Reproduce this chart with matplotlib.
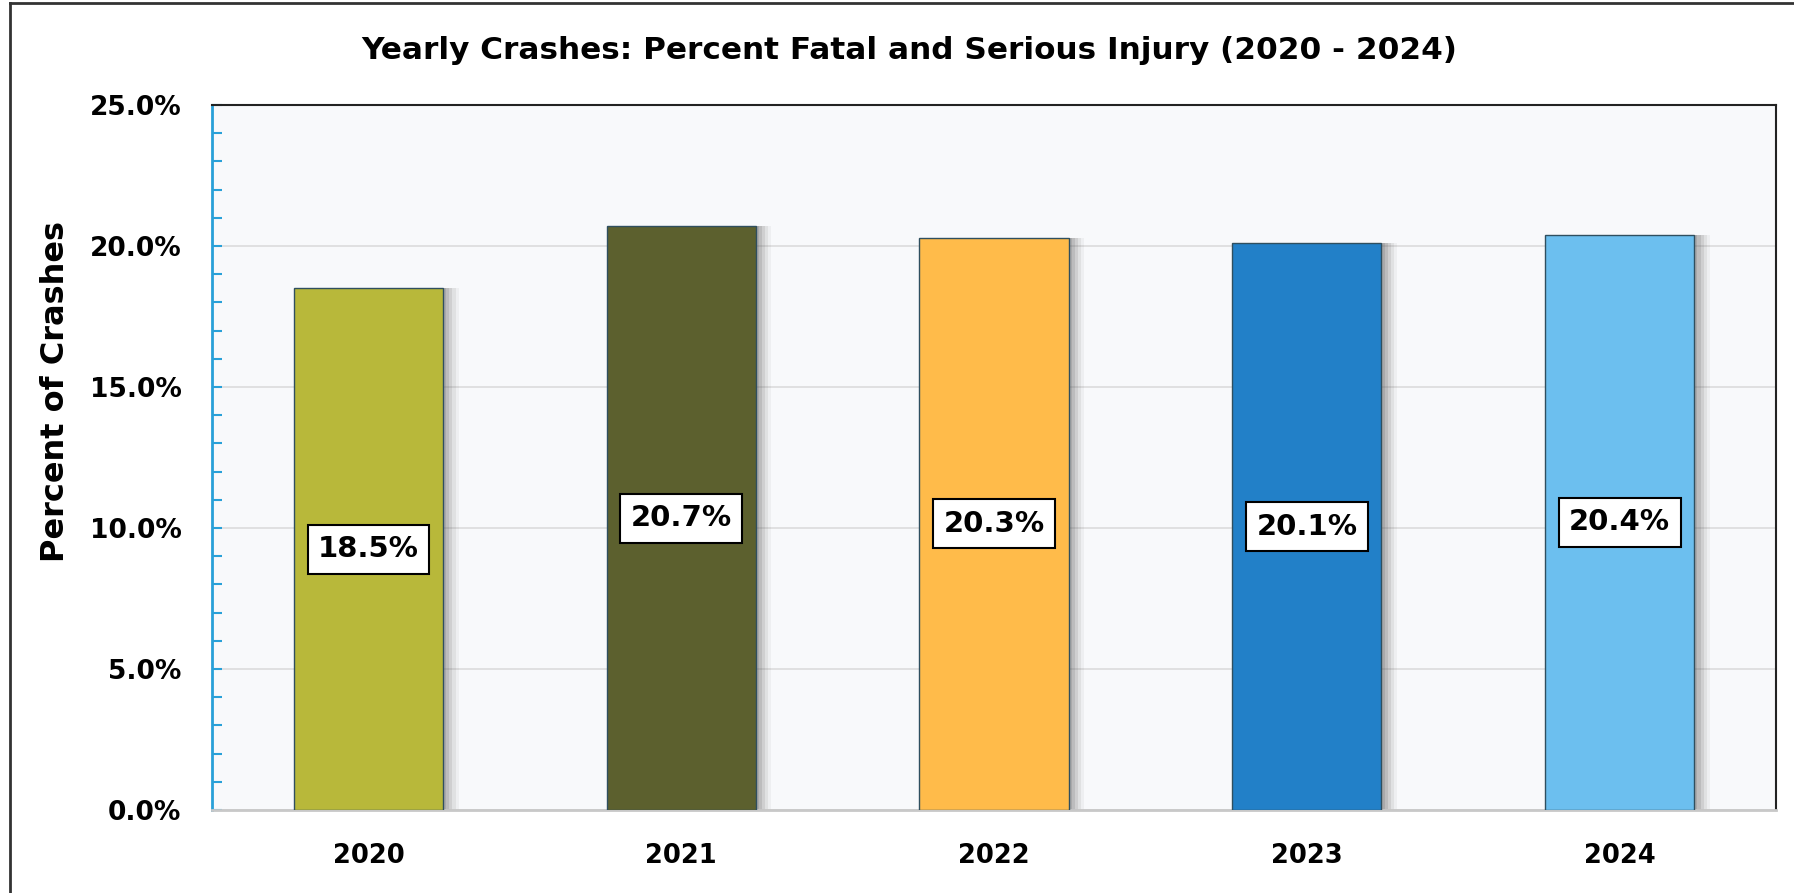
import matplotlib.pyplot as plt
from matplotlib.lines import Line2D
from matplotlib.ticker import MultipleLocator, FuncFormatter

years = ["2020", "2021", "2022", "2023", "2024"]
pct = [18.5, 20.7, 20.3, 20.1, 20.4]
colors = ["#b8b83a", "#5c602e", "#ffbb4a", "#2280c8", "#6cbfef"]

plt.rcParams["font.family"] = ["DejaVu Sans"]
plt.rcParams["font.weight"] = "bold"

fig = plt.figure(figsize=(17.94, 8.93), dpi=100)
ax = fig.add_axes([0.1182, 0.0929, 0.8718, 0.7895])
ax.set_facecolor("#f8f9fb")

x = list(range(len(years)))

# soft shadow to the right of each bar
for off, a in [(0.05, 0.06), (0.04, 0.09), (0.03, 0.12), (0.02, 0.15), (0.01, 0.18)]:
    ax.bar([i + off for i in x], pct, width=0.477, color="#555555", alpha=a,
           linewidth=0, zorder=2)

ax.bar(x, pct, width=0.477, color=colors, edgecolor="#2f4f5f", linewidth=1.0, zorder=3)

for i, v in zip(x, pct):
    ax.text(i, v / 2, f"{v}%", ha="center", va="center", fontsize=21,
            fontweight="bold", zorder=5,
            bbox=dict(boxstyle="square,pad=0.36", facecolor="white",
                      edgecolor="black", linewidth=1.5))

ax.set_xlim(-0.5, 4.5)
ax.set_ylim(0, 25)
ax.set_xticks(x)
ax.set_xticklabels(years)
ax.yaxis.set_major_locator(MultipleLocator(5))
ax.yaxis.set_minor_locator(MultipleLocator(1))
ax.yaxis.set_major_formatter(FuncFormatter(lambda v, p: f"{v:.1f}%"))

ax.grid(axis="y", which="major", color="#dcdcdc", linewidth=1.2, zorder=0)
ax.set_axisbelow(True)

ax.tick_params(axis="x", length=0, pad=24, labelsize=18.5)
ax.tick_params(axis="y", which="major", direction="in", length=7, width=1.5,
               color="#29a0d8", labelsize=19, pad=22)
ax.tick_params(axis="y", which="minor", direction="in", length=7, width=1.5,
               color="#29a0d8")
for lab in ax.get_xticklabels() + ax.get_yticklabels():
    lab.set_fontweight("bold")

ax.spines["left"].set_color("#29a0d8")
ax.spines["left"].set_linewidth(2)
ax.spines["bottom"].set_color("#c8c8c8")
ax.spines["bottom"].set_linewidth(2)
ax.spines["top"].set_color("#222222")
ax.spines["top"].set_linewidth(1.5)
ax.spines["right"].set_color("#222222")
ax.spines["right"].set_linewidth(1.5)

ax.set_ylabel("Percent of Crashes", fontsize=23, fontweight="bold")
ax.yaxis.set_label_coords(-0.090, 0.594)
fig.text(0.507, 0.943, "Yearly Crashes: Percent Fatal and Serious Injury (2020 - 2024)",
         ha="center", va="center", fontsize=22.4, fontweight="bold")

# outer frame (left and top edges visible)
fig.add_artist(Line2D([0.0056, 0.0056], [0, 0.9966], color="#333333", linewidth=2))
fig.add_artist(Line2D([0.0056, 1.0], [0.9966, 0.9966], color="#333333", linewidth=2))

fig.savefig("out.png", dpi=100)
